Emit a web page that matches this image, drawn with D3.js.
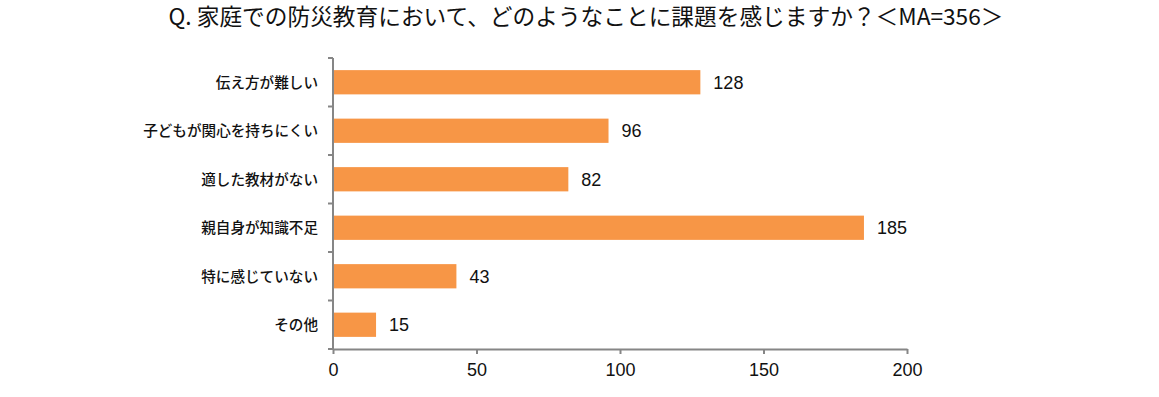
<!DOCTYPE html>
<html>
<head>
<meta charset="utf-8">
<script src="https://cdn.jsdelivr.net/npm/d3@7"></script>
<style>
  body { margin: 0; background: #fff; }
  svg { display: block; }
</style>
</head>
<body>
<svg id="bar-chart"></svg>
<script>
// data
const categories = ["伝え方が難しい", "子どもが関心を持ちにくい", "適した教材がない", "親自身が知識不足", "特に感じていない", "その他"];
const counts = [128, 96, 82, 185, 43, 15];
const xTicks = [0, 50, 100, 150, 200];
const title = "Q. 家庭での防災教育において、どのようなことに課題を感じますか？＜MA=356＞";

const dimensions = {
    width: 1159,
    height: 397,
    margin: { top: 58, right: 252, bottom: 48, left: 333 }
};
const innerW = dimensions.width - dimensions.margin.left - dimensions.margin.right;
const innerH = dimensions.height - dimensions.margin.top - dimensions.margin.bottom;

const data = categories.map((c, i) => ({ label: c, value: counts[i] }));

const root = d3.select("#bar-chart")
    .attr("width", dimensions.width)
    .attr("height", dimensions.height);

// title
root.append("text")
    .attr("x", 586)
    .attr("y", 25)
    .attr("text-anchor", "middle")
    .style("font-family", "'Noto Sans CJK JP', sans-serif")
    .style("font-size", "22.7px")
    .attr("fill", "#111")
    .text(title);

const svg = root.append("g")
    .attr("transform", `translate(${dimensions.margin.left}, ${dimensions.margin.top})`);

const yScale = d3.scaleBand()
    .domain(categories)
    .range([0, innerH])
    .paddingInner(0.5)
    .paddingOuter(0.25);

const xScale = d3.scaleLinear()
    .domain([0, 200])
    .range([0, innerW]);

const axisColor = "#868686";

// bars
svg.selectAll("rect.bar")
    .data(data)
    .enter()
    .append("rect")
    .attr("class", "bar")
    .attr("x", xScale(0))
    .attr("y", d => yScale(d.label))
    .attr("width", d => xScale(d.value) - xScale(0))
    .attr("height", yScale.bandwidth())
    .attr("fill", "#F79646");

// value labels
svg.selectAll("text.value")
    .data(data)
    .enter()
    .append("text")
    .attr("class", "value")
    .attr("x", d => xScale(d.value) + 13)
    .attr("y", d => yScale(d.label) + yScale.bandwidth() / 2)
    .attr("dy", "0.36em")
    .style("font-family", "'Liberation Sans', Arial, sans-serif")
    .style("font-size", "18px")
    .attr("fill", "#111")
    .text(d => d.value);

// y axis: line plus ticks at band boundaries
const yAxis = svg.append("g").attr("class", "y-axis");
yAxis.append("line")
    .attr("x1", 0).attr("x2", 0)
    .attr("y1", 0).attr("y2", innerH)
    .attr("stroke", axisColor)
    .attr("stroke-width", 2);
const step = yScale.step();
yAxis.selectAll("line.tick")
    .data(d3.range(categories.length + 1))
    .enter()
    .append("line")
    .attr("class", "tick")
    .attr("x1", -5).attr("x2", 0)
    .attr("y1", i => i * step)
    .attr("y2", i => i * step)
    .attr("stroke", axisColor)
    .attr("stroke-width", 2);
yAxis.selectAll("text")
    .data(categories)
    .enter()
    .append("text")
    .attr("x", -15)
    .attr("y", d => yScale(d) + yScale.bandwidth() / 2)
    .attr("dy", "0.36em")
    .attr("text-anchor", "end")
    .style("font-family", "'Noto Sans CJK JP', sans-serif")
    .style("font-size", "14.6px")
    .style("font-weight", "500")
    .attr("fill", "#111")
    .text(d => d);

// x axis
const xAxis = svg.append("g")
    .attr("transform", `translate(0, ${innerH})`)
    .call(d3.axisBottom(xScale).tickValues(xTicks).tickSize(5).tickPadding(9).tickSizeOuter(0));
xAxis.select(".domain").attr("stroke", axisColor).attr("stroke-width", 2);
xAxis.selectAll(".tick line").attr("stroke", axisColor).attr("stroke-width", 2);
xAxis.selectAll(".tick text")
    .style("font-family", "'Liberation Sans', Arial, sans-serif")
    .style("font-size", "18px")
    .attr("fill", "#111");
</script>
</body>
</html>
